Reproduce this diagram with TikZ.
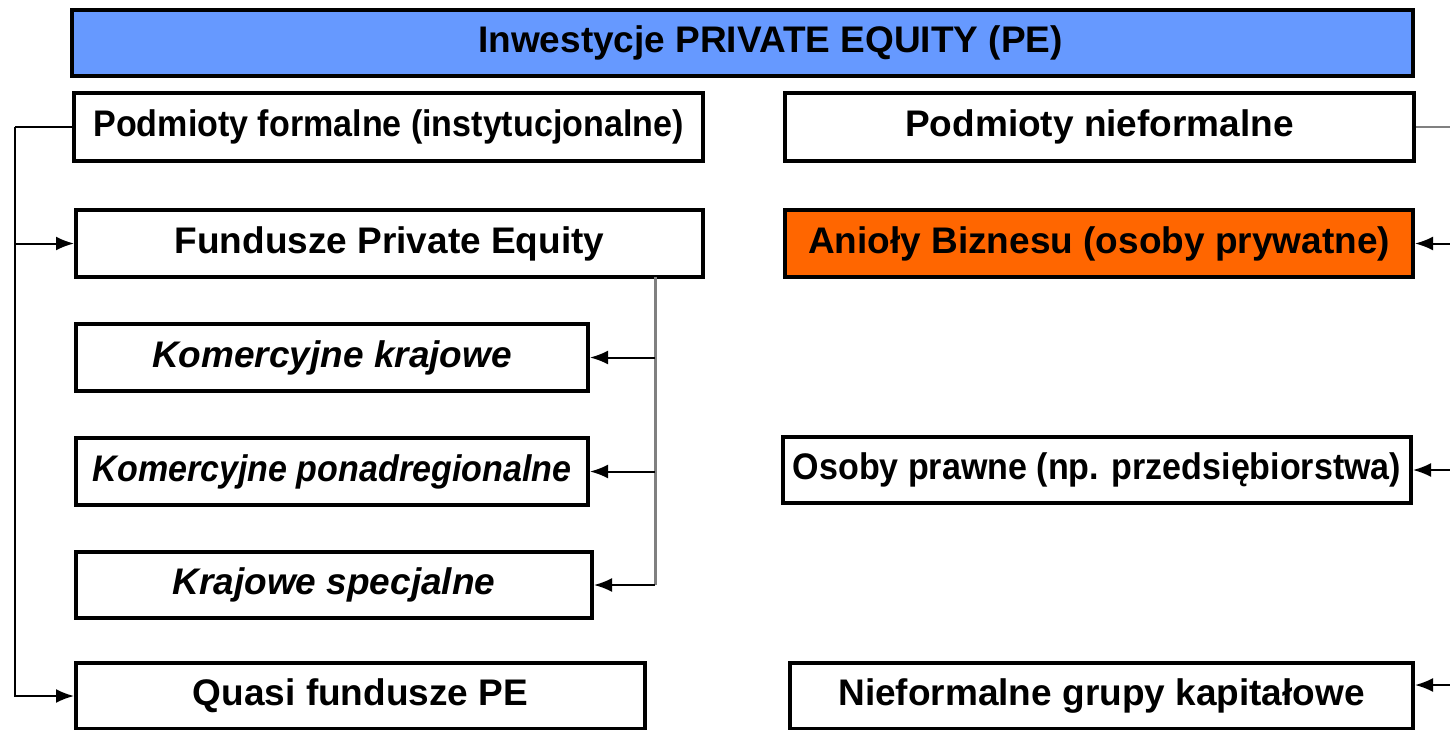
\documentclass[tikz,border=0pt]{standalone}
\usepackage{fontspec}
\usepackage{graphicx}
\setmainfont{Liberation Sans}
\usetikzlibrary{arrows.meta}
\definecolor{peblue}{HTML}{6699FF}
\definecolor{peorange}{HTML}{FF6600}
\newcommand{\squeeze}[1]{\scalebox{0.92}[1]{#1}}
\tikzset{
  box/.style={draw, line width=2pt, rectangle, inner sep=0pt, font=\fontsize{18.5}{21}\selectfont\bfseries},
  link/.style={line width=1pt, -{Latex[length=9pt, width=7pt]}},
}

\begin{document}
\begin{tikzpicture}[x=0.5pt, y=-0.5pt]
        \useasboundingbox (0, 0) rectangle (1450, 729);
        % headline
        \node [box, fill=peblue, minimum width=670.5pt, minimum height=33pt] (pe) at (742.5, 43) {\hspace*{28pt}Inwestycje PRIVATE EQUITY (PE)};
        % formal side
        \node [box, minimum width=314.5pt, minimum height=34pt] (formal) at (388.5, 127) {\squeeze{Podmioty formalne (instytucjonalne)}};
        \node [box, minimum width=313.5pt, minimum height=33.5pt] (fund) at (389.5, 243.5) {Fundusze Private Equity};
        \node [box, minimum width=256pt, minimum height=33.5pt] (kk) at (332, 357.5) {\itshape Komercyjne krajowe};
        \node [box, minimum width=256pt, minimum height=33.5pt] (kp) at (332, 471.5) {\squeeze{\itshape Komercyjne ponadregionalne}};
        \node [box, minimum width=258pt, minimum height=33pt] (ks) at (334, 585) {\itshape Krajowe specjalne};
        \node [box, minimum width=284.5pt, minimum height=33pt] (quasi) at (360.5, 696) {Quasi fundusze PE};
        % informal side
        \node [box, minimum width=314.5pt, minimum height=34pt] (informal) at (1099.5, 127) {Podmioty nieformalne};
        \node [box, fill=peorange, minimum width=314pt, minimum height=33.5pt] (angel) at (1099, 243.5) {Anioły Biznesu (osoby prywatne)};
        \node [box, minimum width=314pt, minimum height=33pt] (legal) at (1097, 470) {\squeeze{Osoby prawne (np. przedsiębiorstwa)}};
        \node [box, minimum width=311.5pt, minimum height=33pt] (group) at (1101.5, 696) {Nieformalne grupy kapitałowe};

        \coordinate (lbus) at (15, 127);
        \coordinate (gbus) at (655, 277);
        \coordinate (rbus) at (1452, 127);

        \draw [link, line width=0.8pt, -] (formal.west) -- (lbus);
        \draw [link] (lbus) |- (quasi.west);
        \draw [link] (lbus |- fund.west) -- (fund.west);

        \draw [link, draw=gray, line width=1.5pt, -] (gbus) -- (gbus |- ks.east);
        \draw [link] (gbus |- ks.east) -- (ks.east);
        \foreach \N in {kk, kp} {
          \draw [link] (gbus |- \N.east) -- (\N.east);
        }

        \draw [link, draw=gray, -] (informal.east) -- (rbus);
        \foreach \N in {angel, legal} {
          \draw [link] (rbus |- \N.east) -- (\N.east);
        }
        \draw [link] (rbus |- 0, 685) -- (group.east |- 0, 685);
      \end{tikzpicture}
\end{document}
